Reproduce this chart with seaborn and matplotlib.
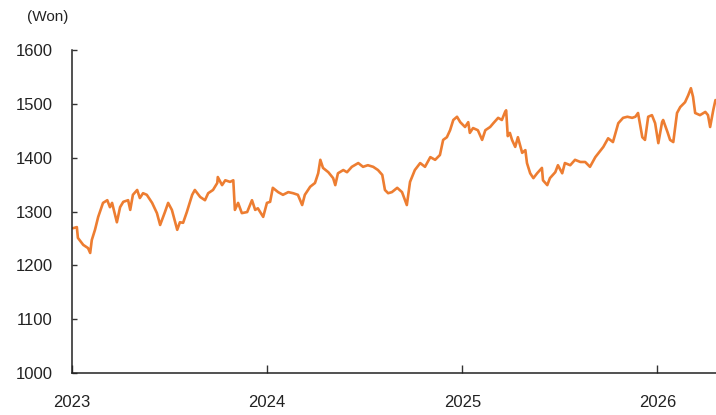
import matplotlib
matplotlib.use("Agg")
import matplotlib.pyplot as plt
import pandas as pd
import seaborn as sns

# KRW per USD exchange rate, sampled observations
dates = [
    "2023-01-03", "2023-01-10", "2023-01-12", "2023-01-22", "2023-01-31", "2023-02-04",
    "2023-02-07", "2023-02-13", "2023-02-19", "2023-02-28", "2023-03-08", "2023-03-13",
    "2023-03-17", "2023-03-26", "2023-04-01", "2023-04-07", "2023-04-16", "2023-04-20",
    "2023-04-25", "2023-05-03", "2023-05-08", "2023-05-14", "2023-05-21", "2023-05-31",
    "2023-06-09", "2023-06-15", "2023-06-24", "2023-06-30", "2023-07-07", "2023-07-17",
    "2023-07-22", "2023-07-28", "2023-08-04", "2023-08-14", "2023-08-19", "2023-08-29",
    "2023-09-07", "2023-09-13", "2023-09-22", "2023-09-30", "2023-10-01", "2023-10-09",
    "2023-10-15", "2023-10-24", "2023-10-30", "2023-11-02", "2023-11-08", "2023-11-15",
    "2023-11-25", "2023-12-04", "2023-12-10", "2023-12-15", "2023-12-25", "2024-01-01",
    "2024-01-07", "2024-01-12", "2024-01-22", "2024-01-31", "2024-02-10", "2024-02-19",
    "2024-02-28", "2024-03-07", "2024-03-12", "2024-03-22", "2024-03-31", "2024-04-06",
    "2024-04-10", "2024-04-15", "2024-04-25", "2024-05-04", "2024-05-08", "2024-05-13",
    "2024-05-23", "2024-05-30", "2024-06-08", "2024-06-20", "2024-06-29", "2024-07-08",
    "2024-07-18", "2024-07-27", "2024-08-04", "2024-08-09", "2024-08-15", "2024-08-22",
    "2024-09-01", "2024-09-10", "2024-09-19", "2024-09-25", "2024-10-04", "2024-10-14",
    "2024-10-23", "2024-11-02", "2024-11-11", "2024-11-20", "2024-11-26", "2024-12-03",
    "2024-12-09", "2024-12-15", "2024-12-22", "2024-12-28", "2025-01-06", "2025-01-12",
    "2025-01-15", "2025-01-21", "2025-01-30", "2025-02-07", "2025-02-13", "2025-02-22",
    "2025-02-28", "2025-03-09", "2025-03-16", "2025-03-22", "2025-03-24", "2025-03-27",
    "2025-03-31", "2025-04-04", "2025-04-10", "2025-04-15", "2025-04-23", "2025-04-29",
    "2025-05-02", "2025-05-08", "2025-05-14", "2025-05-21", "2025-05-30", "2025-06-01",
    "2025-06-09", "2025-06-14", "2025-06-24", "2025-06-29", "2025-07-07", "2025-07-12",
    "2025-07-22", "2025-07-31", "2025-08-10", "2025-08-19", "2025-08-28", "2025-09-07",
    "2025-09-14", "2025-09-22", "2025-10-01", "2025-10-10", "2025-10-20", "2025-10-29",
    "2025-11-06", "2025-11-15", "2025-11-21", "2025-11-26", "2025-12-04", "2025-12-09",
    "2025-12-15", "2025-12-22", "2025-12-28", "2026-01-03", "2026-01-10", "2026-01-12",
    "2026-01-20", "2026-01-25", "2026-01-31", "2026-02-07", "2026-02-13", "2026-02-22",
    "2026-02-28", "2026-03-05", "2026-03-09", "2026-03-13", "2026-03-22", "2026-04-01",
    "2026-04-06", "2026-04-10", "2026-04-16", "2026-04-20",
]
won = [
    1269, 1271, 1251, 1238, 1232, 1223,
    1247, 1266, 1290, 1316, 1321, 1308,
    1316, 1280, 1308, 1318, 1321, 1303,
    1331, 1340, 1325, 1334, 1331, 1316,
    1297, 1275, 1299, 1316, 1303, 1266,
    1280, 1279, 1299, 1331, 1340, 1327,
    1321, 1334, 1340, 1353, 1364, 1349,
    1358, 1355, 1358, 1303, 1316, 1297,
    1299, 1321, 1303, 1306, 1290, 1316,
    1318, 1344, 1336, 1331, 1336, 1334,
    1331, 1312, 1331, 1346, 1353, 1371,
    1396, 1381, 1373, 1362, 1349, 1371,
    1377, 1373, 1383, 1390, 1383, 1386,
    1383, 1377, 1368, 1340, 1334, 1336,
    1344, 1336, 1312, 1355, 1377, 1390,
    1383, 1401, 1396, 1405, 1433, 1438,
    1451, 1470, 1476, 1466, 1457, 1466,
    1446, 1455, 1451, 1433, 1451, 1457,
    1464, 1474, 1470, 1485, 1488, 1440,
    1446, 1433, 1420, 1438, 1409, 1414,
    1390, 1371, 1362, 1371, 1381, 1358,
    1349, 1362, 1373, 1386, 1371, 1390,
    1386, 1396, 1392, 1392, 1383, 1401,
    1410, 1420, 1436, 1429, 1464, 1474,
    1476, 1474, 1476, 1483, 1438, 1433,
    1476, 1479, 1464, 1427, 1466, 1470,
    1448, 1433, 1429, 1483, 1494, 1503,
    1516, 1529, 1513, 1483, 1479, 1485,
    1479, 1457, 1489, 1507,
]
year_ticks = ["2023-01-01", "2024-01-01", "2025-01-01", "2026-01-01"]
year_labels = ["2023", "2024", "2025", "2026"]
y_ticks = [1000, 1100, 1200, 1300, 1400, 1500, 1600]

sns.set_style("white")
plt.rcParams["font.family"] = ["Liberation Sans", "DejaVu Sans"]

df = pd.DataFrame({"date": pd.to_datetime(dates), "won": won})

fig = plt.figure(figsize=(7.16, 4.15), dpi=100)
ax = fig.add_axes([0.1006, 0.1012, 0.8994, 0.7783])

sns.lineplot(data=df, x="date", y="won", color="#ED7D31", linewidth=1.9, ax=ax)

ax.set_xlim(pd.Timestamp("2023-01-01"), pd.Timestamp("2026-04-21"))
ax.set_ylim(1000, 1600)
ax.set_yticks(y_ticks)
ax.set_yticklabels([str(v) for v in y_ticks])
ax.set_xticks(pd.to_datetime(year_ticks))
ax.set_xticklabels(year_labels)
ax.set_xlabel("")
ax.set_ylabel("")

for side in ("top", "right"):
    ax.spines[side].set_visible(False)
for side in ("left", "bottom"):
    ax.spines[side].set_color("#222222")
    ax.spines[side].set_linewidth(1.1)

ax.tick_params(axis="y", direction="in", length=3.5, width=1.0, color="#333333",
               pad=14, labelsize=12, labelcolor="#222222", left=True)
ax.tick_params(axis="x", direction="in", length=6, width=1.0, color="#333333",
               pad=16, labelsize=12, labelcolor="#222222", bottom=True)

fig.text(48 / 716, 1 - 17 / 415, "(Won)", ha="center", va="center",
         fontsize=11, color="#222222")

fig.savefig("out.png", dpi=100)
